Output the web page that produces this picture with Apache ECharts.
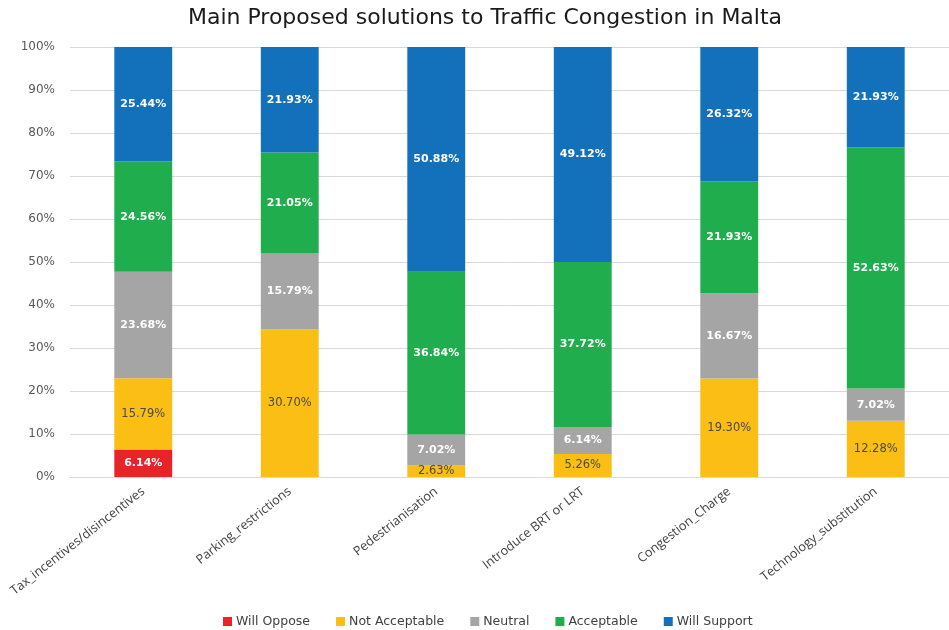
<!DOCTYPE html>
<html>
<head>
<meta charset="utf-8">
<script src="https://cdn.jsdelivr.net/npm/echarts@6/dist/echarts.min.js"></script>
<style>
  html, body { margin: 0; padding: 0; background: #fff; }
  #chart { width: 949px; height: 630px; }
</style>
</head>
<body>
<div id="chart"></div>
<script>
// Survey responses per proposed solution (percent of respondents)
const categories = [
  'Tax_incentives/disincentives',
  'Parking_restrictions',
  'Pedestrianisation',
  'Introduce BRT or LRT',
  'Congestion_Charge',
  'Technology_substitution'
];
const willOppose    = [6.14, 0, 0, 0, 0, 0];
const notAcceptable = [15.79, 30.70, 2.63, 5.26, 19.30, 12.28];
const neutral       = [23.68, 15.79, 7.02, 6.14, 16.67, 7.02];
const acceptable    = [24.56, 21.05, 36.84, 37.72, 21.93, 52.63];
const willSupport   = [25.44, 21.93, 50.88, 49.12, 26.32, 21.93];
const yTickLabels   = ['0%', '10%', '20%', '30%', '40%', '50%', '60%', '70%', '80%', '90%', '100%'];

const groups = [
  { name: 'Will Oppose',    values: willOppose,    color: '#E8242B', text: '#ffffff', bold: true },
  { name: 'Not Acceptable', values: notAcceptable, color: '#FBBE14', text: '#4a4a4a', bold: false },
  { name: 'Neutral',        values: neutral,       color: '#A5A5A5', text: '#ffffff', bold: true },
  { name: 'Acceptable',     values: acceptable,    color: '#20AD4E', text: '#ffffff', bold: true },
  { name: 'Will Support',   values: willSupport,   color: '#1370BA', text: '#ffffff', bold: true }
];

// 100% stacked: each column is scaled by its own total
const totals = categories.map((_, i) => groups.reduce((s, g) => s + g.values[i], 0));

const series = groups.map(g => ({
  name: g.name,
  type: 'bar',
  stack: 'share',
  barWidth: '39.5%',
  itemStyle: { color: g.color },
  emphasis: { disabled: true },
  data: g.values.map((v, i) => ({ value: v === 0 ? null : v / totals[i] * 100, raw: v })),
  label: {
    show: true,
    position: 'inside',
    color: g.text,
    fontFamily: 'DejaVu Sans',
    fontSize: g.bold ? 11 : 11.5,
    fontWeight: g.bold ? 'bold' : 'normal',
    formatter: p => p.data.raw.toFixed(2) + '%'
  }
}));

const chart = echarts.init(document.getElementById('chart'), null, { renderer: 'canvas' });
chart.setOption({
  animation: false,
  title: {
    text: 'Main Proposed solutions to Traffic Congestion in Malta',
    left: 485,
    top: 7,
    padding: 0,
    textAlign: 'center',
    textStyle: { fontFamily: 'DejaVu Sans', fontSize: 22, fontWeight: 'normal', color: '#1a1a1a' }
  },
  legend: {
    top: 615,
    left: 223,
    padding: 0,
    itemWidth: 9,
    itemHeight: 9,
    itemGap: 26,
    icon: 'rect',
    textStyle: { fontFamily: 'DejaVu Sans', fontSize: 12.5, color: '#404040', padding: [0, 0, 0, -1] },
    data: groups.map(g => g.name)
  },
  grid: { left: 70, top: 47, width: 884, height: 430, containLabel: false },
  xAxis: {
    type: 'category',
    data: categories,
    axisLine: { show: true, lineStyle: { color: '#d9d9d9' } },
    axisTick: { show: false },
    axisLabel: {
      rotate: 38,
      interval: 0,
      margin: 13,
      fontFamily: 'Open Sans',
      fontSize: 12.7,
      color: '#404040'
    }
  },
  yAxis: {
    type: 'value',
    min: 0,
    max: 100,
    interval: 10,
    axisLine: { show: false },
    axisTick: { show: false },
    splitLine: { lineStyle: { color: '#d9d9d9' } },
    axisLabel: {
      margin: 15,
      fontFamily: 'DejaVu Sans',
      fontSize: 12,
      color: '#595959',
      formatter: v => yTickLabels[Math.round(v / 10)]
    }
  },
  series
});
</script>
</body>
</html>
